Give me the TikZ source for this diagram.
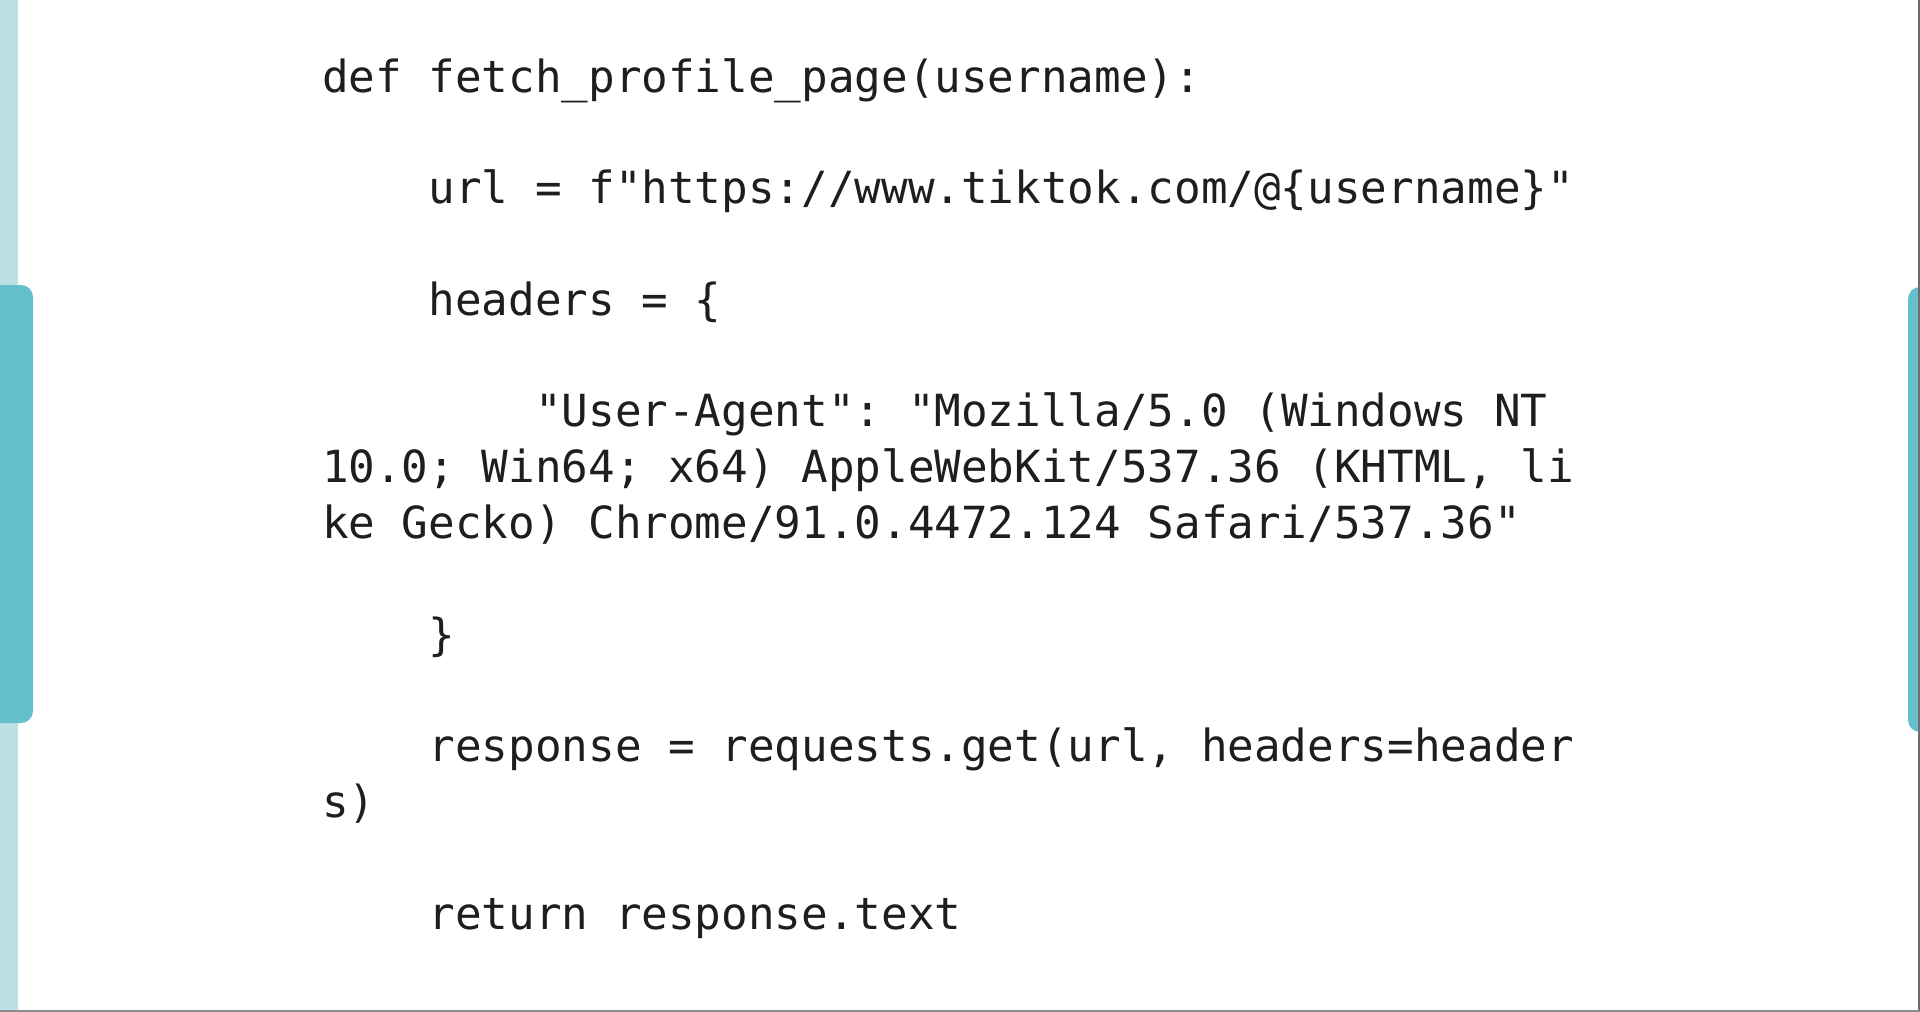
\documentclass[tikz,border=0pt]{standalone}
\usepackage{fontspec}
\setmonofont{DejaVu Sans Mono}
\definecolor{lightteal}{HTML}{BCE0E6}
\definecolor{teal2}{HTML}{63C0CC}
\definecolor{edgegrey}{HTML}{6E6E6E}
\definecolor{codeink}{HTML}{1E1E1E}
\begin{document}
\begin{tikzpicture}[x=1pt,y=-1pt,
  codeline/.style={anchor=base west,inner sep=0pt,outer sep=0pt,
    font=\ttfamily\fontsize{44.25}{56}\selectfont,text=codeink}]
\useasboundingbox (0,0) rectangle (1920,1012);
\fill[white] (0,0) rectangle (1920,1012);
\begin{scope}
\clip (0,0) rectangle (1920,1012);
\fill[lightteal] (0,0) rectangle (18,1012);
\fill[teal2,rounded corners=12pt] (-30,285) rectangle (33,723);
\fill[teal2,rounded corners=12pt] (1908,287) rectangle (1950,732);
\fill[edgegrey] (1917.5,0) rectangle (1920,1012);
\fill[edgegrey!80] (0,1009.5) rectangle (1920,1012);
\end{scope}
\def\lx{322}
\def\cw{26.64}
\node[codeline] (l0)  at (\lx,92)                  {def fetch\_profile\_page(username):};
\node[codeline] (l2)  at ({\lx+4*\cw},{92+2*55.8}) {url = f"https://www.tiktok.com/@\{username\}"};
\node[codeline] (l4)  at ({\lx+4*\cw},{92+4*55.8}) {headers = \{};
\node[codeline] (l6)  at ({\lx+8*\cw},{92+6*55.8}) {"User-Agent": "Mozilla/5.0 (Windows NT};
\node[codeline] (l7)  at (\lx,{92+7*55.8})         {10.0; Win64; x64) AppleWebKit/537.36 (KHTML, li};
\node[codeline] (l8)  at (\lx,{92+8*55.8})         {ke Gecko) Chrome/91.0.4472.124 Safari/537.36"};
\node[codeline] (l10) at ({\lx+4*\cw},{92+10*55.8}) {\}};
\node[codeline] (l12) at ({\lx+4*\cw},{92+12*55.8}) {response = requests.get(url, headers=header};
\node[codeline] (l13) at (\lx,{92+13*55.8})        {s)};
\node[codeline] (l15) at ({\lx+4*\cw},{92+15*55.8}) {return response.text};
\end{tikzpicture}
\end{document}
